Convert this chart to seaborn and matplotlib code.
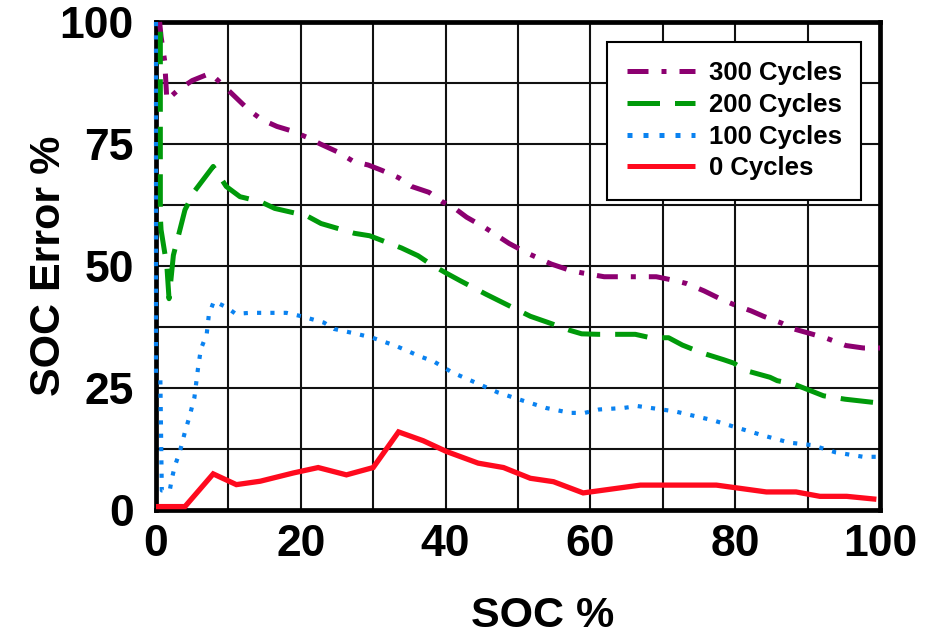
import matplotlib
matplotlib.use("Agg")
import matplotlib.pyplot as plt
import seaborn as sns
import numpy as np
from matplotlib.ticker import MultipleLocator

# ---- data ----
x_300 = [0.5, 0.7, 1.2, 1.5, 3, 5, 7.5, 10, 12.8, 14.6, 16.7, 18.7, 21.3, 22.7, 25.2, 27.3, 29.3, 31.2,
         33.5, 35.3, 37.7, 39.5, 41.1, 42.9, 45.5, 48.8, 51.2, 54.6, 57.2, 58.8, 61.9, 66.9, 69.1, 71.4,
         73.3, 75.7, 77.9, 79.8, 82.2, 83.9, 86.4, 88.1, 90.5, 92.6, 95.3, 97.7, 100]
y_300 = [100, 97, 92, 84, 86, 88, 89.5, 86, 82, 80, 78.6, 77.7, 76.1, 75, 73.3, 71.4, 70.7, 69.6,
         68.1, 66.3, 65.1, 63.2, 62, 60, 57.8, 54.6, 52.7, 50.4, 49.1, 48.6, 47.8, 47.8, 47.8, 47.1,
         46.4, 44.9, 43.3, 42.1, 40.8, 39.7, 38.3, 37.1, 36.1, 35.2, 33.7, 33.2, 33.2]

x_200 = [0.6, 0.6, 0.7, 1.5, 1.8, 2.4, 3.3, 4, 5.3, 7.9, 9.7, 11.6, 14.4, 16.4, 20.8, 22.8, 27.4, 29.5,
         33.9, 36.2, 37.8, 39.9, 42, 45.6, 47.9, 51.7, 54.4, 57.2, 58.8, 61.1, 66.2, 68.3, 70.8, 72.7,
         75.4, 78.4, 79.8, 81.4, 84.8, 85.8, 88.1, 92.2, 95.2, 100]
y_200 = [98, 60, 57.4, 50, 43.3, 52.2, 57.4, 61.5, 65.3, 70.4, 66.3, 64.2, 63.2, 61.8, 60.3, 58.7, 56.7, 56.2,
         53.7, 52.1, 50.5, 48.7, 47, 44.2, 42.5, 39.7, 38.3, 36.8, 36.1, 36.0, 36.0, 35.3, 35.3, 33.8,
         32.2, 30.8, 30.1, 28.6, 27.2, 26.5, 25.8, 23.4, 22.7, 21.9]

x_100 = [0, 0, 0.6, 0.8, 1.9, 2.2, 2.6, 3.3, 4, 4.6, 5.3, 5.8, 6.2, 7, 7.3, 8, 9.8, 11, 13, 18, 20.1,
         23.2, 24.6, 27.7, 29.9, 33, 34.6, 36.4, 38.3, 40.9, 44.3, 47.2, 50.7, 53.9, 57.2, 59.2, 61.2,
         64.5, 66.5, 68.4, 71.7, 73.7, 76.9, 80.2, 83.8, 87.5, 90.6, 93.9, 97.7, 100]
y_100 = [100, 28, 27, 4, 4, 6.5, 9, 12, 16, 19, 23, 29, 33, 36, 40, 42.8, 41.5, 40.2, 40.4, 40.4, 39.7,
         38.4, 37.1, 36.1, 35.3, 33.7, 32.7, 31.5, 30.5, 28.2, 26, 24.1, 22.4, 20.9, 19.9, 19.9, 20.6,
         20.9, 21.3, 20.9, 20.2, 19.5, 18.4, 16.9, 15.3, 13.8, 13.3, 11.8, 10.9, 10.9]

x_0 = [0, 4, 7.9, 11.1, 14.4, 19, 22.4, 26.3, 30, 33.5, 36.9, 40.1, 44.5, 48, 51.7, 54.9, 59, 66.9,
       77.4, 84.3, 88.4, 91.7, 95.4, 99.5]
y_0 = [0.7, 0.7, 7.4, 5.2, 5.9, 7.6, 8.7, 7.2, 8.7, 16, 14.2, 12, 9.6, 8.7, 6.5, 5.8, 3.5, 5.1,
       5.1, 3.7, 3.7, 2.8, 2.8, 2.2]

labels = ["300 Cycles", "200 Cycles", "100 Cycles", "0 Cycles"]
colors = ["#8C0070", "#009A0A", "#0A82F0", "#FF0A1E"]

x_ticks = [0, 20, 40, 60, 80, 100]
y_ticks = [0, 25, 50, 75, 100]

# ---- style ----
sns.set_theme(style="white")
plt.rcParams["font.family"] = ["Liberation Sans", "DejaVu Sans"]
plt.rcParams["font.weight"] = "bold"
plt.rcParams["text.color"] = "black"
plt.rcParams["axes.labelcolor"] = "black"
plt.rcParams["xtick.color"] = "black"
plt.rcParams["ytick.color"] = "black"

fig = plt.figure(figsize=(9.3, 6.36), dpi=100)
ax = fig.add_axes([156 / 930, 1 - 510 / 636, (880 - 156) / 930, (510 - 22) / 636])

series = [(x_300, y_300), (x_200, y_200), (x_100, y_100), (x_0, y_0)]
styles = [
    dict(lw=3.6, dashes=(4.2, 2.6, 1.0, 2.6)),
    dict(lw=3.6, dashes=(6.5, 3.0)),
    dict(lw=3.0, dashes=(1.0, 2.2)),
    dict(lw=3.8, dashes=None),
]

for (xs, ys), lab, col, st in zip(series, labels, colors, styles):
    sns.lineplot(x=xs, y=ys, ax=ax, estimator=None, sort=False, color=col,
                 linewidth=st["lw"], label=lab)
    ln = ax.lines[-1]
    if st["dashes"] is not None:
        ln.set_dashes(st["dashes"])
    ln.set_dash_capstyle("butt")
    ln.set_solid_capstyle("butt")
    ln.set_solid_joinstyle("miter")
    ln.set_clip_on(False)
    ln.set_zorder(5)

ax.set_xlim(0, 100)
ax.set_ylim(0, 100)
ax.set_xticks(x_ticks)
ax.set_yticks(y_ticks)
ax.xaxis.set_minor_locator(MultipleLocator(10))
ax.yaxis.set_minor_locator(MultipleLocator(12.5))
ax.grid(True, which="both", color="#111111", linewidth=1.5)
ax.set_axisbelow(True)
ax.tick_params(which="both", length=0)
ax.tick_params(axis="x", labelsize=32, pad=10)
ax.tick_params(axis="y", labelsize=32, pad=16)
for lab in ax.get_xticklabels() + ax.get_yticklabels():
    lab.set_fontweight("bold")

for sp in ax.spines.values():
    sp.set_visible(True)
    sp.set_color("black")
    sp.set_linewidth(3.4)
    sp.set_zorder(4)

ax.set_xlabel("SOC %", fontsize=31, fontweight="bold")
ax.set_ylabel("SOC Error %", fontsize=31, fontweight="bold")
ax.xaxis.set_label_coords(0.534, -0.176)
ax.yaxis.set_label_coords(-0.120, 0.5)

leg = ax.legend(loc="upper right", bbox_to_anchor=(0.974, 0.959), borderaxespad=0,
                prop={"family": ["Liberation Sans", "DejaVu Sans"], "weight": "bold", "size": 18.5},
                handlelength=2.65, handletextpad=0.55, labelspacing=0.3, borderpad=0.75,
                fancybox=False, framealpha=1, edgecolor="black")
leg.get_frame().set_linewidth(1.5)
leg.set_zorder(6)
for h in leg.get_lines():
    h.set_linewidth(3.6)

fig.savefig("out.png", dpi=100)
